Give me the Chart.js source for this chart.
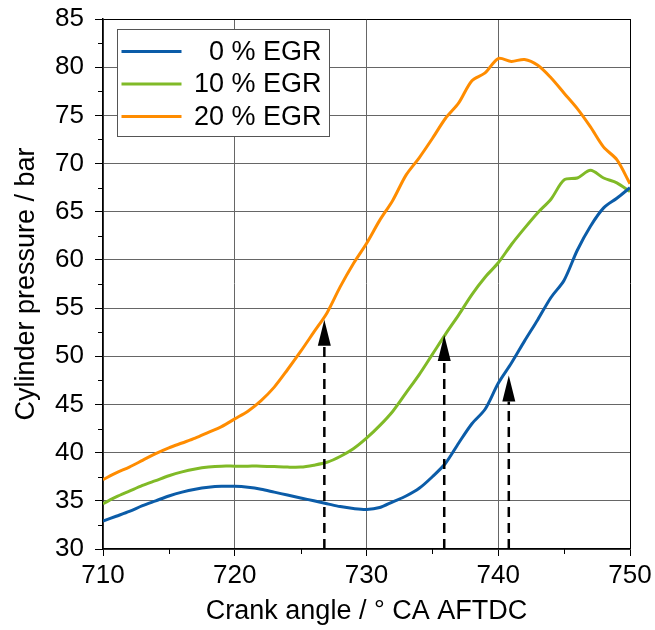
<!DOCTYPE html>
<html>
<head>
<meta charset="utf-8">
<script src="https://cdn.jsdelivr.net/npm/chart.js@4/dist/chart.umd.min.js"></script>
<style>
html,body{margin:0;padding:0;background:#fff;}
#wrap{width:655px;height:630px;}
</style>
</head>
<body>
<div id="wrap"><canvas id="c" width="655" height="630"></canvas></div>
<script>
// ---- data ----
const crankAngle = [710,711,712,713,714,715,716,717,718,719,720,721,722,723,724,725,726,727,728,729,730,731,732,733,734,735,736,737,738,739,740,741,742,743,744,745,746,747,748,749,750];
const egr0 = [32.9,33.4,33.9,34.5,35.0,35.5,35.9,36.2,36.4,36.5,36.5,36.4,36.2,35.9,35.6,35.3,35.0,34.7,34.4,34.2,34.1,34.3,34.9,35.5,36.3,37.5,38.9,41.0,43.0,44.5,47.2,49.3,51.6,53.8,56.1,57.9,61.0,63.5,65.4,66.4,67.5];
const egr10 = [34.7,35.4,36.0,36.6,37.1,37.6,38.0,38.3,38.5,38.6,38.6,38.6,38.6,38.55,38.5,38.5,38.7,39.0,39.6,40.4,41.5,42.8,44.3,46.2,48.1,50.2,52.3,54.3,56.4,58.2,59.7,61.6,63.3,64.9,66.3,68.3,68.5,69.3,68.5,68.0,67.1];
const egr20 = [37.2,37.9,38.5,39.2,39.9,40.5,41.0,41.5,42.1,42.7,43.5,44.3,45.4,46.8,48.6,50.5,52.5,54.5,57.2,59.6,61.7,64.1,66.2,68.8,70.6,72.6,74.7,76.3,78.6,79.4,80.9,80.6,80.8,80.2,78.9,77.3,75.7,73.8,71.7,70.4,67.9];
const seriesLabels = ["0 % EGR","10 % EGR","20 % EGR"];
const seriesColors = ["#0B5CA8","#80BA27","#FF8C00"];
const arrowAngles = [726.8, 735.9, 740.8];
const arrowTips = [53.8, 52.2, 48.0];
const xTicks = [710,720,730,740,750];
const yTicks = [30,35,40,45,50,55,60,65,70,75,80,85];
const xMinor = [715,725,735,745];
const yMinor = [32.5,37.5,42.5,47.5,52.5,57.5,62.5,67.5,72.5,77.5,82.5];

const FONT = "'Liberation Sans', Arial, sans-serif";
const pts = arr => crankAngle.map((a,i)=>({x:a,y:arr[i]}));

const minorTicks = {
  id:'minorTicks',
  afterDraw(chart){
    const {ctx, scales:{x,y}, chartArea:ca} = chart;
    ctx.save();
    ctx.strokeStyle='#000'; ctx.lineWidth=1;
    ctx.beginPath();
    xMinor.forEach(v=>{const px=Math.round(x.getPixelForValue(v))+0.5; ctx.moveTo(px,ca.bottom); ctx.lineTo(px,ca.bottom+5);});
    yMinor.forEach(v=>{const py=Math.round(y.getPixelForValue(v))+0.5; ctx.moveTo(ca.left-5,py); ctx.lineTo(ca.left,py);});
    ctx.stroke();
    ctx.restore();
  }
};

const arrows = {
  id:'arrows',
  afterDatasetsDraw(chart){
    const {ctx, scales:{x,y}, chartArea:ca} = chart;
    ctx.save();
    arrowAngles.forEach((a,i)=>{
      const px = x.getPixelForValue(a);
      const tip = y.getPixelForValue(arrowTips[i]);
      const headH = 26, headW = 13;
      ctx.strokeStyle='#000'; ctx.lineWidth=2.5; ctx.setLineDash([10,6]);
      ctx.beginPath(); ctx.moveTo(px, ca.bottom); ctx.lineTo(px, tip+headH); ctx.stroke();
      ctx.setLineDash([]);
      ctx.fillStyle='#000';
      ctx.beginPath(); ctx.moveTo(px, tip); ctx.lineTo(px-headW/2, tip+headH); ctx.lineTo(px+headW/2, tip+headH); ctx.closePath(); ctx.fill();
    });
    ctx.restore();
  }
};

const legendBox = {
  id:'legendBox',
  afterDraw(chart){
    const {ctx, chartArea:ca} = chart;
    const bx = ca.left+14.5, by = ca.top+10.5, bw = 212, bh = 107;
    ctx.save();
    ctx.fillStyle='#fff'; ctx.fillRect(bx,by,bw,bh);
    ctx.strokeStyle='#555'; ctx.lineWidth=1; ctx.strokeRect(bx,by,bw,bh);
    ctx.font = "27px " + FONT;
    ctx.textAlign='right'; ctx.textBaseline='middle';
    chart.data.datasets.forEach((ds,i)=>{
      const cy = by + 22 + i*32.5;
      ctx.strokeStyle = ds.borderColor; ctx.lineWidth=3;
      ctx.beginPath(); ctx.moveTo(bx+4, cy); ctx.lineTo(bx+64, cy); ctx.stroke();
      ctx.fillStyle='#000';
      ctx.fillText(ds.label, bx+bw-8, cy+1);
    });
    ctx.restore();
  }
};

new Chart(document.getElementById('c'), {
  type:'line',
  data:{
    datasets:[egr0,egr10,egr20].map((arr,i)=>({
      label:seriesLabels[i], data:pts(arr), borderColor:seriesColors[i],
      borderWidth:3, pointRadius:0, tension:0.3, fill:false
    }))
  },
  options:{
    responsive:false, animation:false, devicePixelRatio:1,
    layout:{padding:{top:19,right:25,left:0,bottom:0}},
    plugins:{legend:{display:false}, tooltip:{enabled:false}},
    scales:{
      x:{
        type:'linear', min:710, max:750,
        afterBuildTicks(s){ s.ticks = xTicks.map(v=>({value:v})); },
        afterFit(s){ s.height = 81; s.paddingLeft = 0; s.paddingRight = 0; },
        ticks:{color:'#000', font:{family:FONT, size:26}, padding:4, maxRotation:0},
        grid:{color:c=>(c.tick && c.tick.value===750)?'#000':'#666', lineWidth:1, drawTicks:true, tickLength:7, tickColor:'#000'},
        border:{color:'#000', width:1.5},
        title:{display:true, text:'Crank angle / ° CA AFTDC', color:'#000', font:{family:FONT, size:27}, padding:{top:0,bottom:2}}
      },
      y:{
        type:'linear', min:30, max:85,
        afterBuildTicks(s){ s.ticks = yTicks.map(v=>({value:v})); },
        afterFit(s){ s.width = 103; s.paddingTop = 0; s.paddingBottom = 0; },
        ticks:{color:'#000', font:{family:FONT, size:26}, padding:11},
        grid:{color:c=>(c.tick && c.tick.value===85)?'#000':'#666', lineWidth:1, drawTicks:true, tickLength:8, tickColor:'#000'},
        border:{color:'#000', width:1.5},
        title:{display:true, text:'Cylinder pressure / bar', color:'#000', font:{family:FONT, size:27}, padding:{top:10,bottom:0}}
      }
    }
  },
  plugins:[minorTicks, arrows, legendBox]
});
</script>
</body>
</html>
